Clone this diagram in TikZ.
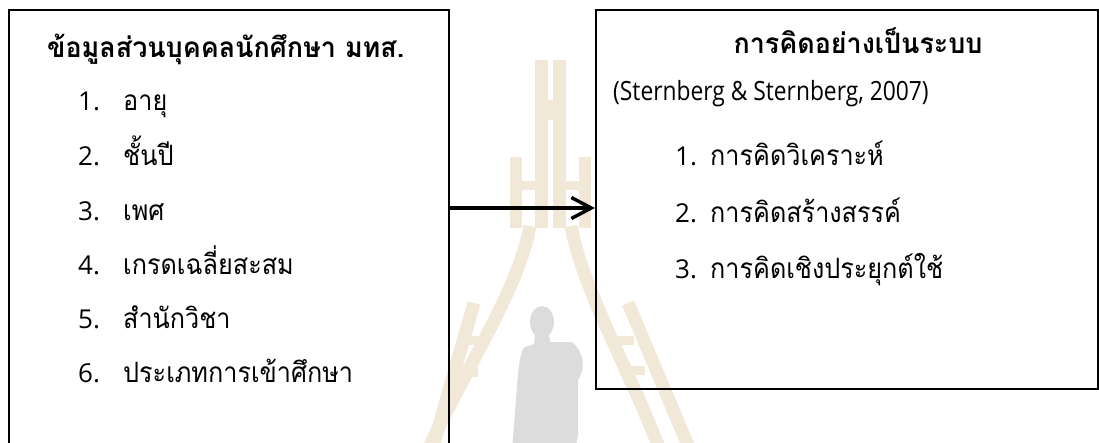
\documentclass[tikz,border=0pt]{standalone}
\usepackage{fontspec}
\setmainfont{Open Sans}
\newfontfamily\citefont[FakeStretch=0.86]{Open Sans}
\newfontfamily\thaifont[Script=Thai, FakeStretch=0.9]{Loma}
\newfontfamily\thaihead[Script=Thai, FakeStretch=0.96]{Loma}
\usetikzlibrary{arrows.meta,positioning}
\definecolor{wmtan}{RGB}{241,232,215}
\definecolor{wmgray}{RGB}{220,220,220}

\begin{document}
\begin{tikzpicture}[x=1pt, y=-1pt,
    frame/.style={draw, line width=1.8pt, inner sep=0pt, anchor=north west},
    head/.style={font=\fontsize{28}{32}\selectfont\thaihead\bfseries, inner sep=0pt},
    entry/.style={font=\fontsize{28}{32}\selectfont\thaifont, anchor=base west, inner sep=0pt},
    num/.style={font=\fontsize{26}{30}\selectfont, anchor=base west, inner sep=0pt},
    cite/.style={font=\fontsize{26.5}{30}\selectfont\citefont, anchor=base west, inner sep=0pt},
    arr/.style={-{Straight Barb[length=20pt,width=21pt]}, line width=3.4pt},
    rail/.style={wmtan, line width=13pt},
    rung/.style={wmtan, line width=9pt}
]
\useasboundingbox (0,0) rectangle (1099,442);
\clip (0,0) rectangle (1099,442);

% faint logo in the background
\fill[wmtan] (535,60) rectangle (548,228);
\fill[wmtan] (553,60) rectangle (566,228);
\fill[wmtan] (548,100) rectangle (553,120);
\fill[wmtan] (510,157) rectangle (522,228);
\fill[wmtan] (579,157) rectangle (591,228);
\draw[rung] (522,185) -- (535,185);
\draw[rung] (566,185) -- (579,185);
\draw[rail] (530,226) .. controls (518,290) and (470,360) .. (428,450);
\draw[rail] (571,226) .. controls (583,290) and (625,360) .. (660,450);
\draw[rail] (474,303) -- (432,450);
\draw[rail] (628,303) -- (690,450);
\draw[rung] (468,340) -- (490,340);
\draw[rung] (459,372) -- (478,372);
\draw[rung] (610,340) -- (634,340);
\draw[rung] (620,370) -- (645,370);
\fill[wmgray] (542,322) ellipse (12 and 16);
\fill[wmgray] (535,334) -- (549,334) -- (550,342) -- (572,342)
  .. controls (584,352) and (586,368) .. (578,380) -- (578,435) -- (575,450)
  -- (512,450) -- (516,400) .. controls (518,370) and (520,350) .. (525,347)
  -- (534,344) -- cycle;

% the two boxes
\node[frame, minimum width=440pt, minimum height=445pt] (info) at (8,9) {};
\node[frame, minimum width=502pt, minimum height=379pt] (think) at (595,9) {};

% left box texts
\node[head, anchor=base west] (infotitle) at (47,57) {ข้อมูลส่วนบุคคลนักศึกษา มทส.};
\node[num] (n1) at (78,110) {1.};
\node[entry] (i1) at (123,110) {อายุ};
\node[num] (n2) at (78,165) {2.};
\node[entry] (i2) at (123,165) {ชั้นปี};
\node[num] (n3) at (78,220) {3.};
\node[entry] (i3) at (123,220) {เพศ};
\node[num] (n4) at (78,274) {4.};
\node[entry] (i4) at (123,274) {เกรดเฉลี่ยสะสม};
\node[num] (n5) at (78,328) {5.};
\node[entry] (i5) at (123,328) {สำนักวิชา};
\node[num] (n6) at (78,382) {6.};
\node[entry] (i6) at (123,382) {ประเภทการเข้าศึกษา};

% right box texts
\node[head, anchor=base] (thinktitle) at (858,53) {การคิดอย่างเป็นระบบ};
\node[cite] (ref) at (613,100) {(Sternberg \& Sternberg, 2007)};
\node[num] (m1) at (675,165) {1.};
\node[entry] (j1) at (710,165) {การคิดวิเคราะห์};
\node[num] (m2) at (675,222) {2.};
\node[entry] (j2) at (710,222) {การคิดสร้างสรรค์};
\node[num] (m3) at (675,278) {3.};
\node[entry] (j3) at (710,278) {การคิดเชิงประยุกต์ใช้};

% link between the boxes
\coordinate (mid) at (520,208);
\draw[arr] (info.east |- mid) -- (think.west |- mid);
\end{tikzpicture}
\end{document}
